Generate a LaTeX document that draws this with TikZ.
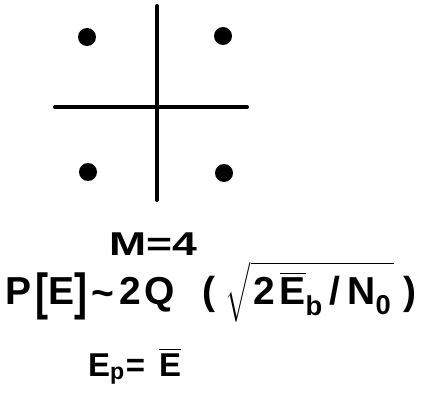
\documentclass[tikz,border=0pt]{standalone}
\usepackage{amsmath}
\usepackage{graphicx}
\usepackage{fontspec}
\setmainfont{Liberation Sans}
\usepackage{tikz}
\usetikzlibrary{positioning}

\newcommand{\tallbr}[1]{\raisebox{-5pt}{\scalebox{1}[1.3]{#1}}}
\newcommand{\barE}{$\overline{\text{E}}$}

\tikzset{
  axis/.style={line width=4pt,line cap=round},
  signal/.style={circle,fill=black,inner sep=0pt,minimum size=18pt},
  caption/.style={inner sep=0pt,anchor=base}
}

\begin{document}
\begin{tikzpicture}[x=1pt,y=1pt]
  \useasboundingbox (0,0) rectangle (428,402);

  % axes
  \coordinate (ytop) at (157,396);
  \coordinate (ybot) at (157,202);
  \coordinate (xleft) at (55,295);
  \coordinate (xright) at (247,295);
  \draw[axis] (ytop) -- (ybot);
  \draw[axis] (xleft) -- (xright);

  % signal points
  \node[signal] (s1) at (87,365) {};
  \node[signal] (s2) at (223,366) {};
  \node[signal] (s3) at (88,230) {};
  \node[signal] (s4) at (224,229) {};

  % labels
  \node[caption,font=\bfseries\fontsize{33}{35}\selectfont] (mlabel) at (153,147)
    {\scalebox{1.35}[1]{M=4}};
  \node[caption,anchor=base west,font=\bfseries\fontsize{39}{41}\selectfont] (perr) at (5,98)
    {P\hspace{4pt}\tallbr{[}E\tallbr{]}\hspace{4pt}\raisebox{-2pt}{\textasciitilde}\hspace{6pt}2\hspace{3pt}Q\hspace{28pt}(\hspace{10pt}$\sqrt{\hspace{3pt}\text{2}\hspace{4pt}\overline{\text{E}}_{\text{b}}\hspace{7pt}\text{/}\hspace{7pt}\text{N}_{\text{0}}\hspace{3pt}}$\hspace{9pt})};
  \node[caption,anchor=base west,font=\bfseries\fontsize{33}{35}\selectfont] (energy) at (88,26)
    {E$_{\text{p}}$\hspace{1pt}=\hspace{14pt}\barE};
\end{tikzpicture}
\end{document}
